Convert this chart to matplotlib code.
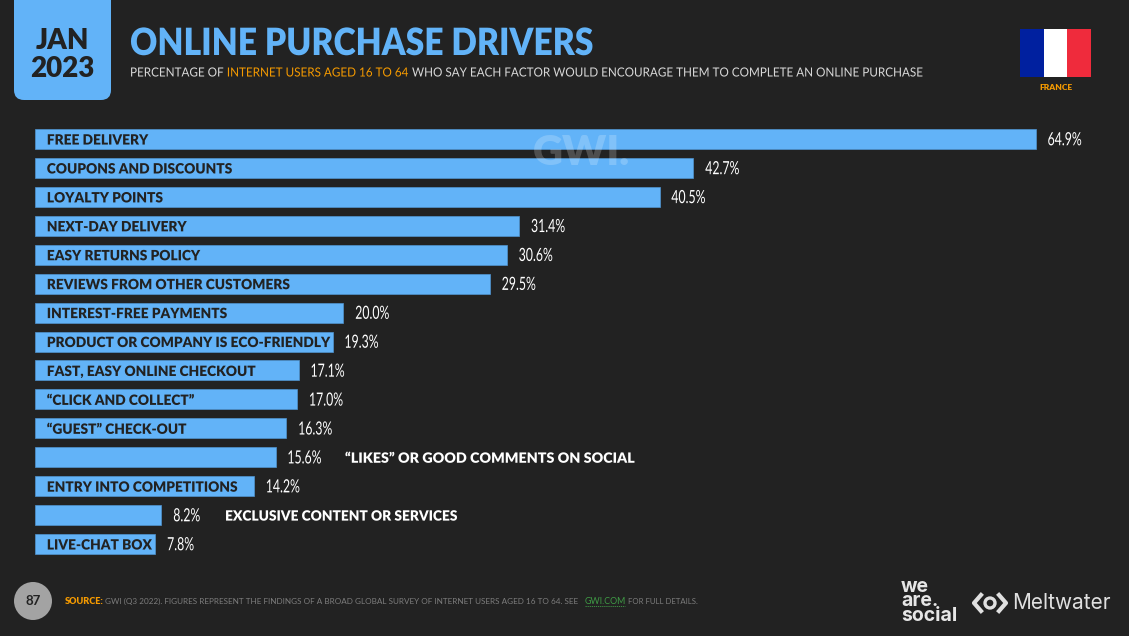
import matplotlib
matplotlib.use("Agg")
import matplotlib.pyplot as plt
import matplotlib.patheffects as pe
from matplotlib.patches import FancyBboxPatch, Rectangle, Circle
from matplotlib.transforms import Affine2D

# values
factors = ["FREE DELIVERY", "COUPONS AND DISCOUNTS", "LOYALTY POINTS",
           "NEXT-DAY DELIVERY", "EASY RETURNS POLICY",
           "REVIEWS FROM OTHER CUSTOMERS", "INTEREST-FREE PAYMENTS",
           "PRODUCT OR COMPANY IS ECO-FRIENDLY", "FAST, EASY ONLINE CHECKOUT",
           "\u201cCLICK AND COLLECT\u201d", "\u201cGUEST\u201d CHECK-OUT",
           "\u201cLIKES\u201d OR GOOD COMMENTS ON SOCIAL",
           "ENTRY INTO COMPETITIONS", "EXCLUSIVE CONTENT OR SERVICES",
           "LIVE-CHAT BOX"]
shares = [64.9, 42.7, 40.5, 31.4, 30.6, 29.5, 20.0, 19.3, 17.1, 17.0, 16.3,
          15.6, 14.2, 8.2, 7.8]
outside = ["\u201cLIKES\u201d OR GOOD COMMENTS ON SOCIAL",
           "EXCLUSIVE CONTENT OR SERVICES"]

BG = "#222222"
BLUE = "#62b3f8"
ORANGE = "#f59a00"
W, H = 1129, 636
FONT = "Lato"


class Squeeze(pe.AbstractPathEffect):
    """Scale glyphs about the text origin (no narrow font is installed)."""

    def __init__(self, sx=1.0, sy=1.0):
        super().__init__()
        self.sx, self.sy = sx, sy

    def draw_path(self, renderer, gc, tpath, affine, rgbFace=None):
        renderer.draw_path(gc, tpath, Affine2D().scale(self.sx, self.sy) + affine,
                           rgbFace)


fig = plt.figure(figsize=(W / 100, H / 100), dpi=100, facecolor=BG)
rend = fig.canvas.get_renderer()

# bars on their own axes, 0 sits at x=35px and 1% is 15.42px
ax = fig.add_axes([35 / W, 1 - 558.5 / H, 70 * 15.42 / W, 433.9 / H])
ax.set_xlim(0, 70)
ax.set_ylim(len(factors) - 0.5, -0.5)
ax.axis("off")
ys = list(range(len(factors)))
ax.barh(ys, shares, height=0.69, color=BLUE, edgecolor="#4f94d0", linewidth=0.5)

label_fx = [Squeeze(0.97, 1.0)]
for y, name, v in zip(ys, factors, shares):
    ax.annotate(f"{v:.1f}%", (v, y), xytext=(8.5, -0.5),
                textcoords="offset points", color="white", fontsize=11.5,
                family=FONT, va="center_baseline", ha="left",
                path_effects=[Squeeze(0.77, 1.14)])
    if name in outside:
        # the two labels sit at different gaps past the value on the slide
        wide = v > 10
        ax.annotate(name, (v, y), xytext=(50 if wide else 45.8, 0),
                    textcoords="offset points", color="white", fontsize=10.2,
                    family=FONT, weight="heavy", va="center_baseline", ha="left",
                    path_effects=[Squeeze(1.008 if wide else 0.97, 1.0)])
    else:
        ax.annotate(name, (0, y), xytext=(8.5, 0), textcoords="offset points",
                    color=BG, fontsize=10.2, family=FONT, weight="heavy",
                    va="center_baseline", ha="left", path_effects=label_fx)

# slide furniture, in pixel coordinates
bg = fig.add_axes([0, 0, 1, 1], zorder=-1)
bg.set_xlim(0, W)
bg.set_ylim(H, 0)
bg.axis("off")
top = fig.add_axes([0, 0, 1, 1], zorder=5)
top.set_xlim(0, W)
top.set_ylim(H, 0)
top.axis("off")
top.patch.set_alpha(0)

bg.add_patch(FancyBboxPatch((14, -30), 97, 130,
                            boxstyle="round,pad=0,rounding_size=10",
                            fc=BLUE, ec="none"))
bg.text(62.5, 49, "JAN", color=BG, fontsize=20, family=FONT, weight="heavy",
        ha="center", va="baseline")
bg.text(62.5, 77, "2023", color=BG, fontsize=20, family=FONT, weight="heavy",
        ha="center", va="baseline")

bg.text(130, 55, "ONLINE PURCHASE DRIVERS", color=BLUE, fontsize=27,
        family=FONT, weight="heavy", ha="left", va="baseline",
        path_effects=[Squeeze(0.897, 1.0)])

# subtitle in three colours, one piece after the other
SUB_SX = 0.93
x = 130
for s, c in [("PERCENTAGE OF ", "#d8d8d8"),
             ("INTERNET USERS AGED 16 TO 64", ORANGE),
             (" WHO SAY EACH FACTOR WOULD ENCOURAGE THEM TO COMPLETE AN ONLINE PURCHASE", "#d8d8d8")]:
    t = bg.text(x, 76.5, s, color=c, fontsize=9.05, family=FONT, ha="left",
                va="baseline", path_effects=[Squeeze(SUB_SX, 1.0)])
    x += t.get_window_extent(rend).width * SUB_SX

# flag
for fx, c in zip((1020, 1043.7, 1067.4), ("#00209f", "#ffffff", "#ef2b3c")):
    bg.add_patch(Rectangle((fx, 29), 23.7, 48, fc=c, ec="none"))
bg.text(1055.5, 87, "FRANCE", color=ORANGE, fontsize=6, family=FONT,
        weight="heavy", ha="center", va="center")

# watermark sits over the bars
top.text(581, 153, "GWI.", color="white", alpha=0.2, fontsize=30, family=FONT,
         weight="heavy", ha="center", va="center")

# footer
bg.add_patch(Circle((33, 601), 19, fc="#a3a3a3", ec="none"))
bg.text(33, 601, "87", color=BG, fontsize=9.5, family=FONT, weight="bold",
        ha="center", va="center")
bg.text(65, 601, "SOURCE:", color=ORANGE, fontsize=6.6, family=FONT,
        weight="heavy", ha="left", va="center")
bg.text(105, 601, "GWI (Q3 2022). FIGURES REPRESENT THE FINDINGS OF A BROAD GLOBAL "
        "SURVEY OF INTERNET USERS AGED 16 TO 64. SEE", color="#7d7d7d",
        fontsize=5.9, family=FONT, ha="left", va="center")
bg.text(585, 601, "GWI.COM", color="#3f9b45", fontsize=6.4, family=FONT,
        ha="left", va="center")
bg.plot([585, 625], [606, 606], color="#3f9b45", lw=0.6, ls=(0, (1.5, 1)))
bg.text(628, 601, "FOR FULL DETAILS.", color="#7d7d7d", fontsize=5.6, family=FONT,
        ha="left", va="center")

# logos
bg.text(901, 601.5, "we\nare.\nsocial", color="#e6e6e6", fontsize=14, family="Inter",
        weight="bold", ha="left", va="center", linespacing=0.72)
bg.add_patch(Circle((990, 603), 5, fc="none", ec="#e0e0e0", lw=2.4))
bg.plot([981, 974, 981], [595, 603, 611], color="#e0e0e0", lw=3)
bg.plot([999, 1006, 999], [595, 603, 611], color="#e0e0e0", lw=3)
bg.text(1012, 603, "Meltwater", color="#e0e0e0", fontsize=15, family="Inter",
        ha="left", va="center")

fig.savefig("out.png", dpi=100, facecolor=BG)
